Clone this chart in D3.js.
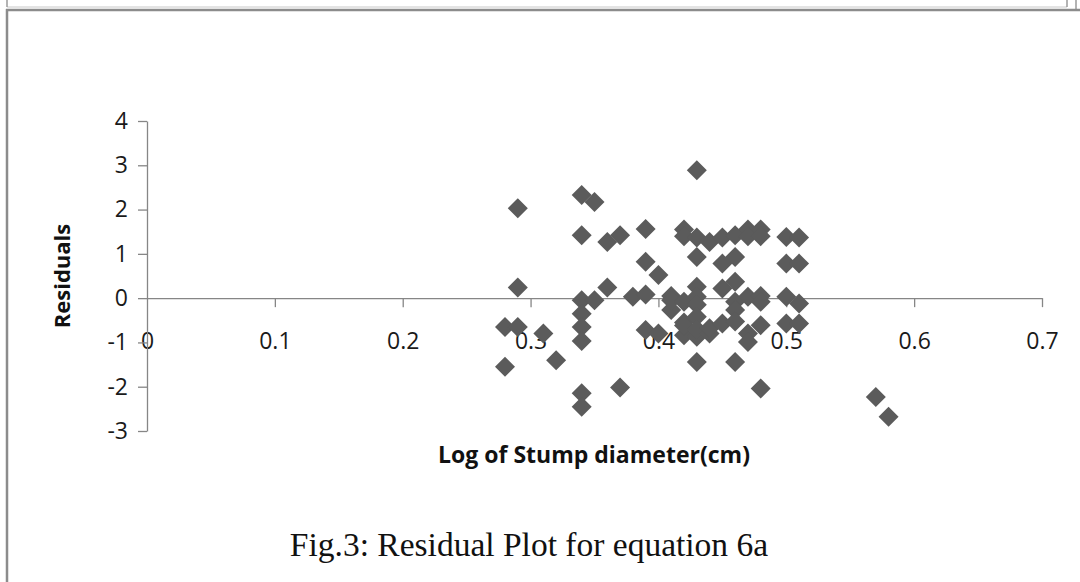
<!DOCTYPE html>
<html lang="en">
  <head>
    <meta charset="UTF-8" />
    <title>Residual Plot</title>
    <script src="https://d3js.org/d3.v7.min.js"></script>
    <style>
      body { margin: 0; background: #fff; }
      svg { display: block; }
    </style>
  </head>
  <body>
    <div id="chart"></div>
    <script>
      // stump diameter (log) and residuals
      const logDiameter = [
        0.28, 0.28,
        0.29, 0.29, 0.29,
        0.31, 0.32,
        0.34, 0.34, 0.34, 0.34, 0.34, 0.34, 0.34, 0.34,
        0.35, 0.35,
        0.36, 0.36,
        0.37, 0.37,
        0.38,
        0.39, 0.39, 0.39, 0.39,
        0.40, 0.40,
        0.41, 0.41, 0.41,
        0.42, 0.42, 0.42, 0.42, 0.42, 0.42,
        0.43, 0.43, 0.43, 0.43, 0.43, 0.43, 0.43, 0.43, 0.43, 0.43,
        0.44, 0.44, 0.44,
        0.45, 0.45, 0.45, 0.45,
        0.46, 0.46, 0.46, 0.46, 0.46, 0.46, 0.46,
        0.47, 0.47, 0.47, 0.47, 0.47,
        0.48, 0.48, 0.48, 0.48, 0.48, 0.48,
        0.50, 0.50, 0.50, 0.50,
        0.51, 0.51, 0.51, 0.51,
        0.57, 0.58
      ];
      const residuals = [
        -0.65, -1.55,
        2.03, 0.24, -0.65,
        -0.8, -1.4,
        2.33, 1.42, -0.05, -0.35, -0.65, -0.97, -2.15, -2.45,
        2.17, -0.05,
        1.27, 0.24,
        1.42, -2.02,
        0.03,
        1.56, 0.82, 0.08, -0.72,
        0.52, -0.8,
        0.05, -0.27, -0.05,
        1.55, 1.4, -0.08, -0.55, -0.84, -0.62,
        2.89, 1.37, 0.93, 0.26, 0.03, -0.15, -0.42, -0.87, -1.44, -0.7,
        1.27, -0.8, -0.68,
        1.37, 0.78, 0.22, -0.57,
        1.42, 0.93, 0.37, -0.08, -0.27, -0.53, -1.44,
        1.55, 1.4, 0.03, -0.8, -0.99,
        1.55, 1.4, 0.05, -0.08, -0.61, -2.04,
        1.38, 0.78, 0.03, -0.57,
        1.37, 0.78, -0.12, -0.57,
        -2.23, -2.68
      ];
      const xTicks = [0, 0.1, 0.2, 0.3, 0.4, 0.5, 0.6, 0.7];
      const yTicks = [-3, -2, -1, 0, 1, 2, 3, 4];

      const width = 1080;
      const height = 582;
      const axisGrey = "#868686";

      const svg = d3
        .select("#chart")
        .append("svg")
        .attr("width", width)
        .attr("height", height);

      // page frame
      svg.append("line").attr("x1", 7).attr("y1", 7).attr("x2", 1067).attr("y2", 7)
        .attr("stroke", "#c8c8c8").attr("stroke-width", 1);
      svg.append("line").attr("x1", 7).attr("y1", 0).attr("x2", 7).attr("y2", 7)
        .attr("stroke", "#9a9a9a").attr("stroke-width", 1.5);
      svg.append("line").attr("x1", 1067).attr("y1", 0).attr("x2", 1067).attr("y2", 7)
        .attr("stroke", "#9a9a9a").attr("stroke-width", 1.5);
      svg.append("line").attr("x1", 1076).attr("y1", 0).attr("x2", 1076).attr("y2", 10)
        .attr("stroke", "#9a9a9a").attr("stroke-width", 1.5);
      svg.append("line").attr("x1", 6).attr("y1", 10).attr("x2", width).attr("y2", 10)
        .attr("stroke", "#8c8c8c").attr("stroke-width", 2.5);
      svg.append("line").attr("x1", 7).attr("y1", 9).attr("x2", 7).attr("y2", height)
        .attr("stroke", "#8c8c8c").attr("stroke-width", 2.5);

      const x = d3.scaleLinear().domain([0, 0.7]).range([147, 1042]);
      const y = d3.scaleLinear().domain([-3, 4]).range([431, 121]);

      // x axis crosses at zero residual
      const xAxis = svg
        .append("g")
        .attr("transform", `translate(0,${y(0)})`)
        .call(
          d3.axisBottom(x)
            .tickValues(xTicks)
            .tickFormat((d) => (d === 0 ? "0" : d3.format(".1f")(d)))
            .tickSize(9)
            .tickSizeOuter(0)
            .tickPadding(26)
        );

      const yAxis = svg
        .append("g")
        .attr("transform", `translate(${x(0)},0)`)
        .call(
          d3.axisLeft(y)
            .tickValues(yTicks)
            .tickFormat((d) => String(d))
            .tickSize(9)
            .tickSizeOuter(0)
            .tickPadding(10)
        );

      [xAxis, yAxis].forEach((g) => {
        g.select(".domain").attr("stroke", axisGrey).attr("stroke-width", 1.3);
        g.selectAll(".tick line").attr("stroke", axisGrey).attr("stroke-width", 1.3);
        g.selectAll(".tick text")
          .attr("fill", "#1a1a1a")
          .style("font-family", "'Open Sans', sans-serif")
          .style("font-size", "23px");
      });
      // the 0 tick on the x axis sits on the y axis, drop its mark
      xAxis.selectAll(".tick").filter((d) => d === 0).select("line").remove();

      // points
      const points = logDiameter.map((d, i) => ({ x: d, y: residuals[i] }));
      const diamond = d3.symbol(d3.symbolSquare).size(200);
      svg
        .append("g")
        .selectAll("path")
        .data(points)
        .enter()
        .append("path")
        .attr("d", diamond)
        .attr("transform", (d) => `translate(${x(d.x)},${y(d.y)}) rotate(45)`)
        .attr("fill", "#5b5b5b");

      // axis titles
      svg
        .append("text")
        .attr("x", 594)
        .attr("y", 463)
        .attr("text-anchor", "middle")
        .style("font-family", "'Open Sans', sans-serif")
        .style("font-size", "23px")
        .style("font-weight", "bold")
        .attr("fill", "#111")
        .text("Log of Stump diameter(cm)");

      svg
        .append("text")
        .attr("transform", "translate(70,276) rotate(-90)")
        .attr("text-anchor", "middle")
        .style("font-family", "'Open Sans', sans-serif")
        .style("font-size", "22px")
        .style("font-weight", "bold")
        .attr("fill", "#111")
        .text("Residuals");

      // figure caption
      svg
        .append("text")
        .attr("x", 529)
        .attr("y", 556)
        .attr("text-anchor", "middle")
        .style("font-family", "'Liberation Serif', 'Times New Roman', serif")
        .style("font-size", "33.5px")
        .attr("fill", "#111")
        .text("Fig.3: Residual Plot for equation 6a");
    </script>
  </body>
</html>
